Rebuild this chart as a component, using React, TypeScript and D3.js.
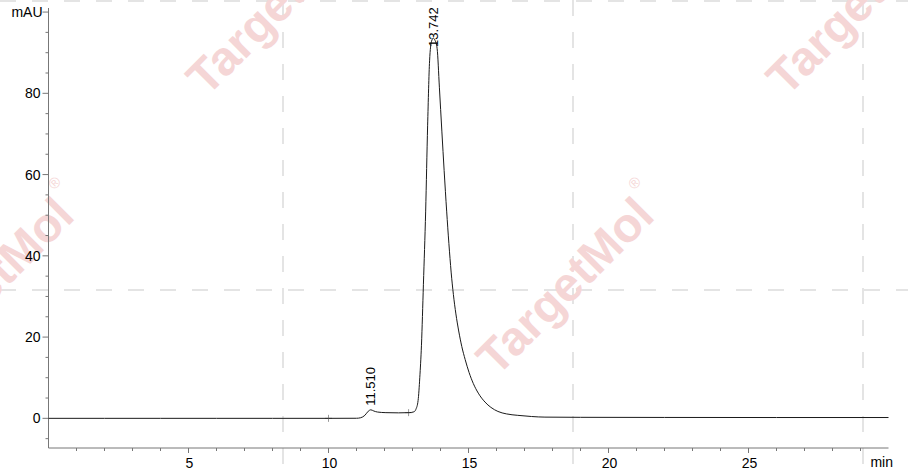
import React, { useEffect } from "react";
import * as d3 from "d3";

// chromatogram trace (min, mAU)
const timeMin: number[] = [
  0, 2, 4, 6, 8, 10, 11.0, 11.15, 11.3, 11.42, 11.51, 11.62, 11.75, 12.05, 12.5, 12.88,
  13.05, 13.12, 13.2, 13.26, 13.32, 13.39, 13.47, 13.54, 13.61, 13.68, 13.742, 13.8, 13.88,
  13.96, 14.05, 14.13, 14.22, 14.3, 14.38, 14.46, 14.55, 14.65, 14.76, 14.88, 15.02, 15.17,
  15.35, 15.59, 15.8, 16.05, 16.35, 16.76, 17.25, 17.73, 19, 22, 26, 30,
];
const signalMAU: number[] = [
  0, 0, 0, 0, 0, 0, 0.02, 0.15, 0.75, 1.75, 2.1, 1.8, 1.55, 1.4, 1.35, 1.4,
  1.6, 2.2, 4.4, 10, 18, 33, 51, 72, 88, 92.8, 93.6, 93.1, 91,
  81.5, 70.5, 61, 51, 43, 36, 30.5, 25.7, 21.5, 17.7, 14.5, 11.3, 8.6,
  6.2, 4.0, 2.7, 1.7, 1.1, 0.74, 0.45, 0.3, 0.25, 0.22, 0.2, 0.2,
];

// peak annotations
const peakTimes: number[] = [11.51, 13.742];
const peakHeights: number[] = [2.1, 93.6];
const peakLabels: string[] = ["11.510", "13.742"];

// integration markers (+)
const markerTimes: number[] = [10.0, 12.86];
const markerValues: number[] = [0, 1.4];

// axis ticks
const xMajorTicks: number[] = [5, 10, 15, 20, 25];
const yMajorTicks: number[] = [0, 20, 40, 60, 80];

// watermark grid
const gridX: number[] = [283, 573, 863];
const gridY: number[] = [1, 290];
const markCenters: [number, number][] = [
  [275, 6],
  [855, 6],
  [-15, 286],
  [565, 286],
];

const width = 908;
const height = 472;
const fontFamily = "'Liberation Sans', Arial, sans-serif";

const App: React.FC = () => {
  useEffect(() => {
    document.body.style.margin = "0";
    document.body.style.overflow = "hidden";
  }, []);

  const xScale = d3.scaleLinear().domain([0, 30]).range([48.5, 888.5]);
  const yScale = d3.scaleLinear().domain([-7.3, 101]).range([448, 8]);

  const points: [number, number][] = timeMin.map((t, i) => [t, signalMAU[i]]);
  const line = d3
    .line<[number, number]>()
    .x((d) => xScale(d[0]))
    .y((d) => yScale(d[1]))
    .curve(d3.curveMonotoneX);

  const xMinor = d3.range(1, 30).filter((t) => t % 5 !== 0);
  const yMinor = d3.range(-5, 101, 5).filter((v) => v % 20 !== 0);

  const axisX = xScale(0);
  const axisY = yScale(-7.3);

  return (
    <svg width={width} height={height} style={{ display: "block", background: "#fff" }}>
      {/* Watermark dashed grid */}
      <g stroke="#e4e4e4" strokeWidth={2} strokeDasharray="16 16">
        {gridX.map((gx) => (
          <line key={`gx-${gx}`} x1={gx} x2={gx} y1={0} y2={height} />
        ))}
        {gridY.map((gy) => (
          <line key={`gy-${gy}`} x1={0} x2={width} y1={gy} y2={gy} />
        ))}
      </g>
      {/* Watermark logos */}
      {markCenters.map(([cx, cy], i) => (
        <g key={`wm-${i}`} transform={`translate(${cx},${cy}) rotate(-45)`} fill="#f5d6d6">
          <text
            textAnchor="middle"
            dominantBaseline="central"
            fontFamily={fontFamily}
            fontWeight="bold"
            fontSize={48}
          >
            TargetMol
          </text>
          <text x={122} y={-24} textAnchor="middle" dominantBaseline="central" fontFamily={fontFamily} fontSize={15}>
            ®
          </text>
        </g>
      ))}

      {/* Y axis */}
      <g stroke="#777" strokeWidth={1} fill="none">
        <line x1={axisX} x2={axisX} y1={8} y2={axisY} />
        {yMajorTicks.concat([100]).map((v) => (
          <line key={`ymaj-${v}`} x1={axisX - 6} x2={axisX} y1={yScale(v)} y2={yScale(v)} />
        ))}
        {yMinor.map((v) => (
          <line key={`ymin-${v}`} x1={axisX - 3} x2={axisX} y1={yScale(v)} y2={yScale(v)} />
        ))}
      </g>
      <g fontFamily={fontFamily} fontSize={14} fill="#000" textAnchor="end">
        {yMajorTicks.map((v) => (
          <text key={`yl-${v}`} x={axisX - 8} y={yScale(v)} dy="0.36em">
            {v}
          </text>
        ))}
        <text x={axisX - 6} y={yScale(100)} dy="0.36em">
          mAU
        </text>
      </g>

      {/* X axis */}
      <g stroke="#777" strokeWidth={1} fill="none">
        <line x1={axisX} x2={xScale(30)} y1={axisY} y2={axisY} />
        {xMajorTicks.map((t) => (
          <line key={`xmaj-${t}`} x1={xScale(t)} x2={xScale(t)} y1={axisY} y2={axisY + 5} />
        ))}
        {xMinor.map((t) => (
          <line key={`xmin-${t}`} x1={xScale(t)} x2={xScale(t)} y1={axisY} y2={axisY + 3} />
        ))}
      </g>
      <g fontFamily={fontFamily} fontSize={14} fill="#000" textAnchor="middle">
        {xMajorTicks.map((t) => (
          <text key={`xl-${t}`} x={xScale(t) + 1} y={468}>
            {t}
          </text>
        ))}
        <text x={893} y={467} textAnchor="end">
          min
        </text>
      </g>

      {/* Integration markers */}
      <g stroke="#999" strokeWidth={1}>
        {markerTimes.map((t, i) => (
          <g key={`mk-${i}`}>
            <line x1={xScale(t) - 3.5} x2={xScale(t) + 3.5} y1={yScale(markerValues[i])} y2={yScale(markerValues[i])} />
            <line x1={xScale(t)} x2={xScale(t)} y1={yScale(markerValues[i]) - 3.5} y2={yScale(markerValues[i]) + 3.5} />
          </g>
        ))}
      </g>

      {/* Trace */}
      <path d={line(points) ?? ""} fill="none" stroke="#1a1a1a" strokeWidth={1} />

      {/* Peak labels */}
      <g fontFamily={fontFamily} fontSize={13} fill="#000">
        {peakTimes.map((t, i) => {
          const ly = Math.max(yScale(peakHeights[i]) - 4, 47);
          return (
            <text
              key={`pl-${i}`}
              transform={`translate(${xScale(t)},${ly}) rotate(-90)`}
              dominantBaseline="central"
            >
              {peakLabels[i]}
            </text>
          );
        })}
      </g>
    </svg>
  );
};

export default App;
